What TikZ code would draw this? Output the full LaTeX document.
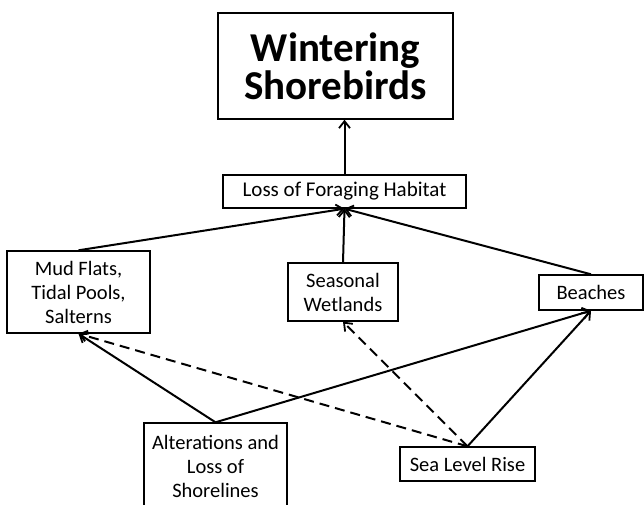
\documentclass[tikz,border=0pt]{standalone}
\usepackage{fontspec}
\setmainfont{Carlito}
\usetikzlibrary{arrows.meta}
\begin{document}
\begin{tikzpicture}[x=1pt,y=-1pt,
  box/.style={draw=black,line width=1.4pt,align=center,inner sep=0pt,
    font=\fontsize{20.5}{24}\selectfont},
  titlebox/.style={box,font=\fontsize{41}{38}\selectfont\bfseries},
  link/.style={line width=2pt,-{Straight Barb[length=7pt,width=11pt,line width=1.8pt]}},
  dlink/.style={link,dash pattern=on 10pt off 6pt}]
\useasboundingbox (0,0) rectangle (644,505);
\clip (0,0) rectangle (644,505);
\fill[white] (0,0) rectangle (644,505);
\node[titlebox,minimum width=235pt,minimum height=106pt] (title) at (335.5,66) {Wintering\\Shorebirds};
\node[box,minimum width=243pt,minimum height=33pt,font=\fontsize{21}{24}\selectfont] (loss) at (344.5,191.5) {Loss of Foraging Habitat};
\node[box,minimum width=143pt,minimum height=82pt] (mud) at (78.5,292) {Mud Flats,\\Tidal Pools,\\Salterns};
\node[box,minimum width=110pt,minimum height=58pt] (wet) at (343,292) {Seasonal\\Wetlands};
\node[box,minimum width=104pt,minimum height=35pt] (beach) at (591,292.5) {Beaches};
\node[box,minimum width=143pt,minimum height=86pt] (alt) at (215.5,466) {Alterations and\\Loss of\\Shorelines};
\node[box,minimum width=135pt,minimum height=34pt] (sea) at (467.5,464) {Sea Level Rise};
\draw[link] (loss.north) -- (loss.north |- title.south);
\draw[link] (mud.north) -- (loss.south);
\draw[link] (wet.north) -- (loss.south);
\draw[link] (beach.north) -- (loss.south);
\draw[link] (alt.north) -- (mud.south);
\draw[link] (alt.north) -- (beach.south);
\draw[link] (sea.north) -- (beach.south);
\draw[dlink] (sea.north) -- (mud.south);
\draw[dlink] (sea.north) -- (wet.south);
\end{tikzpicture}
\end{document}
